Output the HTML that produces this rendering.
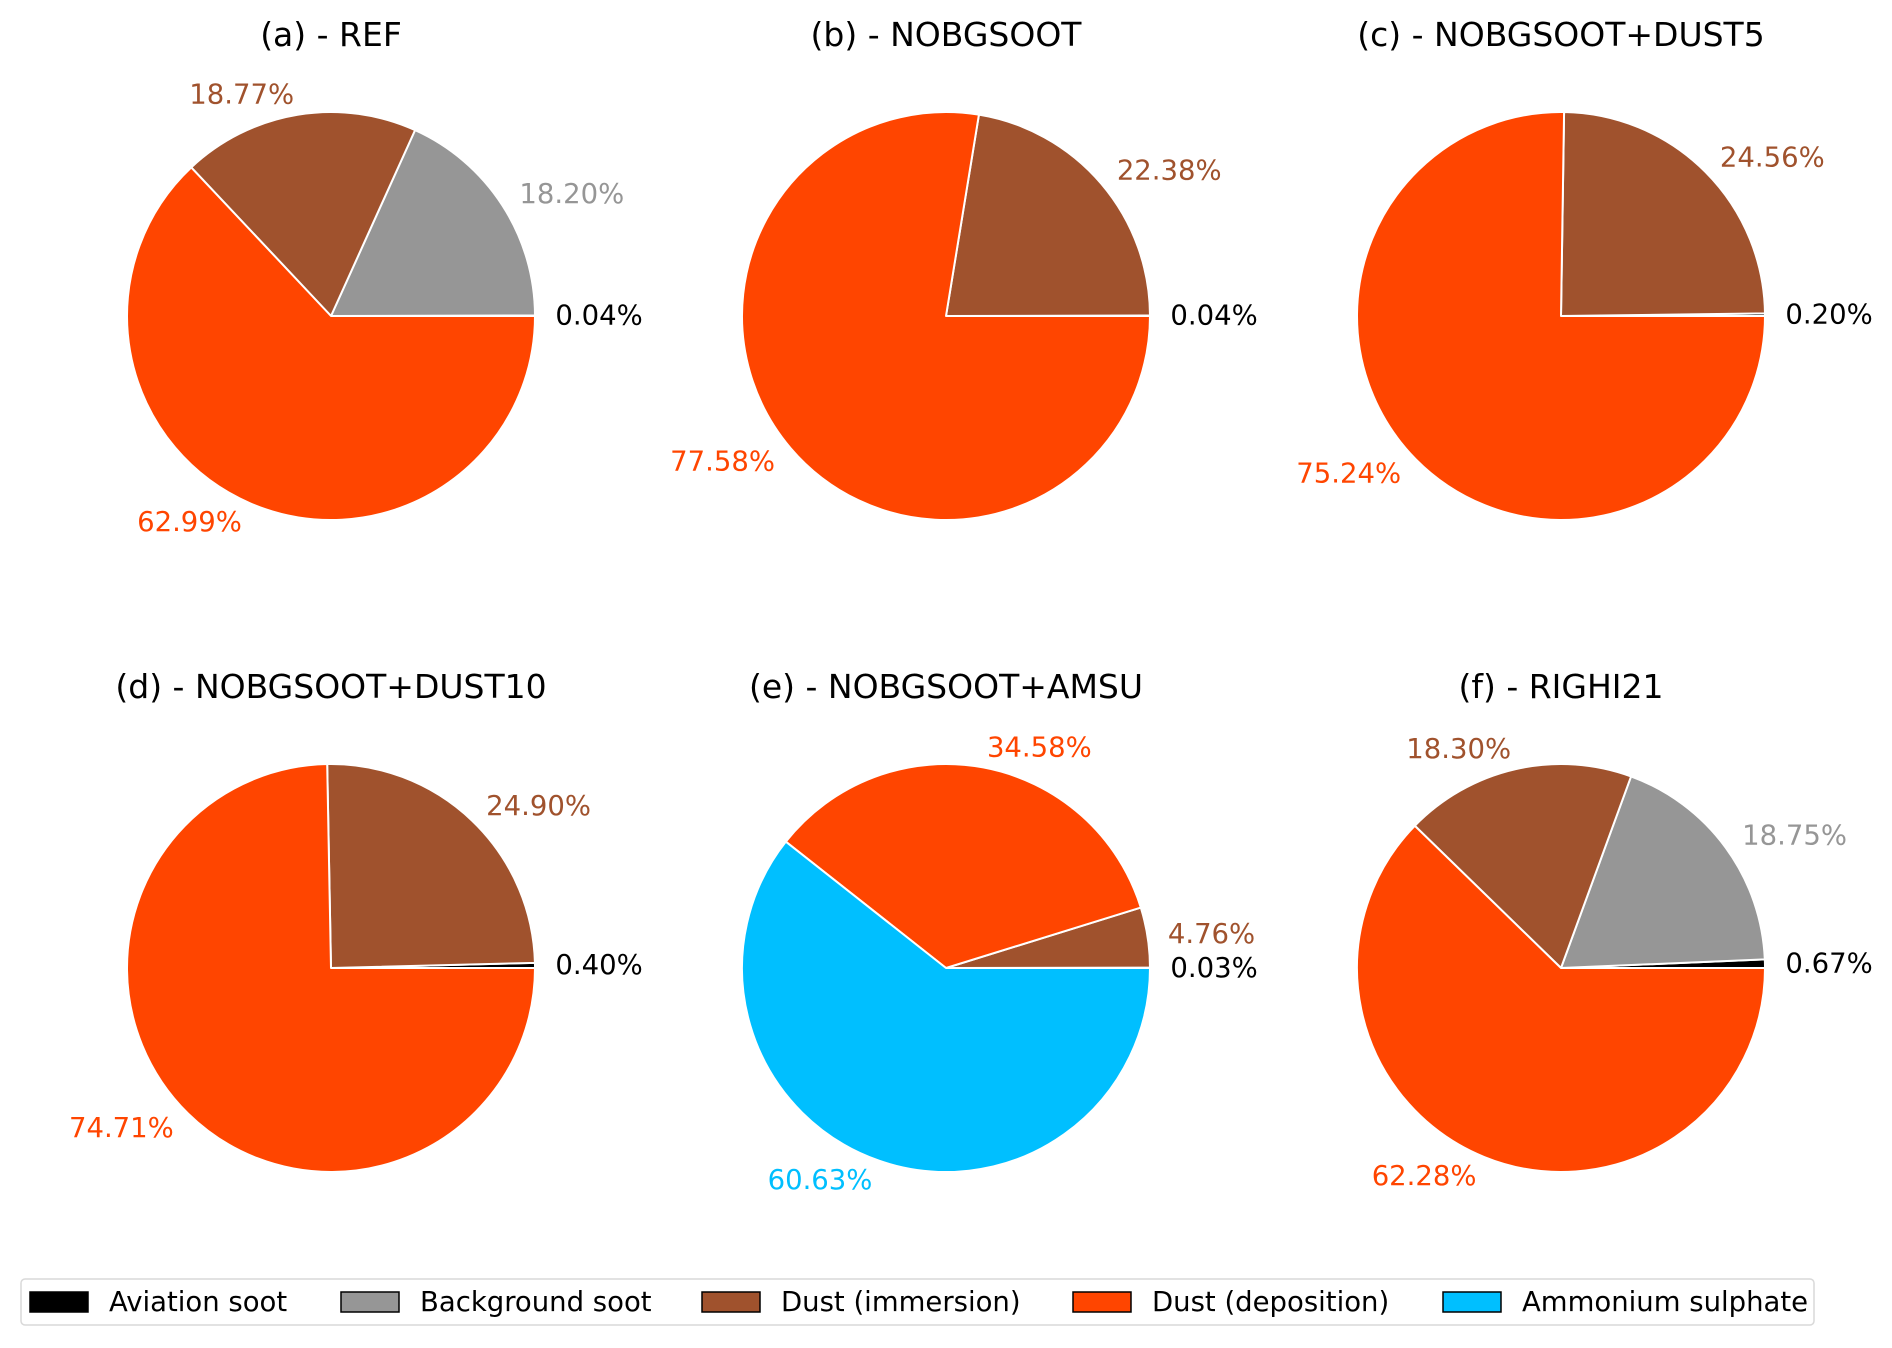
<!DOCTYPE html>
<html><head><meta charset="utf-8"><style>
html,body{margin:0;padding:0;background:#fff;}
svg{display:block;font-family:"DejaVu Sans","Liberation Sans",sans-serif;}
</style></head><body>
<svg id="chart" width="1892" height="1348" viewBox="0 0 1892 1348"></svg>
<script>
const categories = ["Aviation soot","Background soot","Dust (immersion)","Dust (deposition)","Ammonium sulphate"];
const colors = ["#000000","#969696","#A0522D","#FF4500","#00BFFF"];
const labelColors = ["#000000","#969696","#A0522D","#FF4500","#00BFFF"];
const titles = ["(a) - REF","(b) - NOBGSOOT","(c) - NOBGSOOT+DUST5","(d) - NOBGSOOT+DUST10","(e) - NOBGSOOT+AMSU","(f) - RIGHI21"];
const valuesA = [0.04,18.20,18.77,62.99,0];
const valuesB = [0.04,0,22.38,77.58,0];
const valuesC = [0.20,0,24.56,75.24,0];
const valuesD = [0.40,0,24.90,74.71,0];
const valuesE = [0.03,0,4.76,34.58,60.63];
const valuesF = [0.67,18.75,18.30,62.28,0];
const allValues = [valuesA,valuesB,valuesC,valuesD,valuesE,valuesF];

const svg = document.getElementById('chart');
const NS = 'http://www.w3.org/2000/svg';
function mk(tag, attrs){const e=document.createElementNS(NS,tag);for(const k in attrs)e.setAttribute(k,attrs[k]);return e;}
const cxs=[331,946,1561], cys=[316,968], R=204;

allValues.forEach((vals,pi)=>{
  const cx=cxs[pi%3], cy=cys[Math.floor(pi/3)];
  const g=mk('g',{});
  
  
  svg.appendChild(g);
  const t=mk('text',{x:cx,y:cy-R-66,'text-anchor':'middle','font-size':'33',fill:'#000'});
  t.textContent=titles[pi];
  
  
  g.appendChild(t);
  const total=vals.reduce((a,b)=>a+b,0);
  let a0=0;
  vals.forEach((v,i)=>{
    if(v<=0) return;
    const a1=a0+v/total*360;
    const r0=a0*Math.PI/180, r1=a1*Math.PI/180;
    const x0=cx+R*Math.cos(r0), y0=cy-R*Math.sin(r0);
    const x1=cx+R*Math.cos(r1), y1=cy-R*Math.sin(r1);
    const large=(a1-a0)>180?1:0;
    const p=mk('path',{d:`M${cx},${cy} L${x0},${y0} A${R},${R} 0 ${large} 0 ${x1},${y1} Z`,fill:colors[i],stroke:'#fff','stroke-width':'2','stroke-linejoin':'round'});
    
    
    g.appendChild(p);
    const am=(a0+a1)/2*Math.PI/180;
    const lx=cx+1.1*R*Math.cos(am), ly=cy-1.1*R*Math.sin(am);
    const lt=mk('text',{x:lx,y:ly,'text-anchor':Math.cos(am)>=0?'start':'end','dominant-baseline':'central','font-size':'27.5',fill:labelColors[i]});
    lt.textContent=v.toFixed(2)+'%';
    
    
    g.appendChild(lt);
    a0=a1;
  });
});

const lg=mk('g',{});


svg.appendChild(lg);
const box=mk('rect',{x:21,y:1279,width:1793,height:46,rx:4,fill:'#fff',stroke:'#d9d9d9','stroke-width':'1.5'});


lg.appendChild(box);
const lx=[30,341,702,1073,1443];
categories.forEach((c,i)=>{
  const r=mk('rect',{x:lx[i],y:1292,width:58,height:20,fill:colors[i],stroke:'#000','stroke-width':'1.5'});
  
  
  lg.appendChild(r);
  const t=mk('text',{x:lx[i]+79,y:1302,'dominant-baseline':'central','font-size':'27.5',fill:'#000'});
  t.textContent=c;
  
  
  lg.appendChild(t);
});
</script>
</body></html>
